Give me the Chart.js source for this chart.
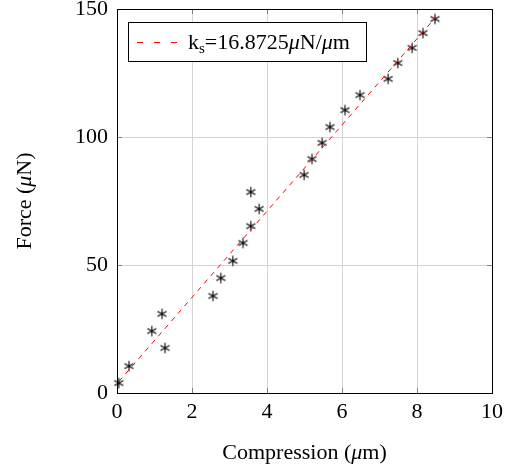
<!DOCTYPE html>
<html>
<head>
<meta charset="utf-8">
<script src="https://cdn.jsdelivr.net/npm/chart.js@4.4.1/dist/chart.umd.min.js"></script>
<style>
    html, body { margin: 0; padding: 0; background: #fff; }
    #wrap { width: 510px; height: 468px; }
</style>
</head>
<body>
<div id="wrap"><canvas id="grafico" width="510" height="468"></canvas></div>
<script>
// datos medidos (compresion en um, fuerza en uN)
var compresion = [0.05, 0.32, 0.93, 1.20, 1.28, 2.56, 2.77, 3.09, 3.36, 3.57, 3.57, 3.79,
    4.99, 5.20, 5.47, 5.68, 6.08, 6.48, 7.23, 7.49, 7.87, 8.16, 8.48];
var fuerza = [3.9, 10.5, 24.2, 30.9, 17.6, 37.9, 44.9, 51.6, 58.6, 65.2, 78.5, 71.9,
    85.2, 91.4, 97.7, 103.9, 110.5, 116.4, 122.7, 128.9, 134.8, 140.6, 146.1];
// recta de ajuste
var ajusteX = [0.05, 8.5];
var ajusteY = [4.5, 146.8];
var ticksX = [0, 2, 4, 6, 8, 10];
var ticksY = [0, 50, 100, 150];

var FUENTE = 'Liberation Serif';
var TAM = 22;

function f(estilo, tam) {
    return (estilo ? estilo + ' ' : '') + tam + 'px "' + FUENTE + '"';
}

// texto con partes de distinto estilo
function dibujarTexto(ctx, partes, x, y, centrado) {
    var ancho = 0;
    for (var i in partes) {
        ctx.font = partes[i].font;
        ancho += ctx.measureText(partes[i].t).width;
    }
    var px = centrado ? x - ancho / 2 : x;
    ctx.textBaseline = 'alphabetic';
    ctx.textAlign = 'left';
    for (var j in partes) {
        ctx.font = partes[j].font;
        ctx.fillText(partes[j].t, px, y + (partes[j].dy || 0));
        px += ctx.measureText(partes[j].t).width;
    }
}

var tituloX = [
    {t: 'Compression (', font: f('', TAM)},
    {t: 'μ', font: f('italic', TAM)},
    {t: 'm)', font: f('', TAM)}
];
var tituloY = [
    {t: 'Force (', font: f('', TAM)},
    {t: 'μ', font: f('italic', TAM)},
    {t: 'N)', font: f('', TAM)}
];
var textoLeyenda = [
    {t: 'k', font: f('', 22)},
    {t: 's', font: f('', 15), dy: 4},
    {t: '=16.8725', font: f('', 22)},
    {t: 'μ', font: f('italic', 22)},
    {t: 'N/', font: f('', 22)},
    {t: 'μ', font: f('italic', 22)},
    {t: 'm', font: f('', 22)}
];

// marcador asterisco de 6 brazos
function crearAsterisco() {
    var c = document.createElement('canvas');
    c.width = 13;
    c.height = 13;
    var g = c.getContext('2d');
    g.strokeStyle = '#000';
    g.lineWidth = 1.1;
    var r = 5.2;
    for (var k = 0; k < 3; k++) {
        var a = Math.PI / 2 + k * Math.PI / 3;
        g.beginPath();
        g.moveTo(6.5 - r * Math.cos(a), 6.5 - r * Math.sin(a));
        g.lineTo(6.5 + r * Math.cos(a), 6.5 + r * Math.sin(a));
        g.stroke();
    }
    return c;
}

var puntos = [];
for (var i = 0; i < compresion.length; i++) {
    puntos.push({x: compresion[i], y: fuerza[i]});
}
var recta = [];
for (var j = 0; j < ajusteX.length; j++) {
    recta.push({x: ajusteX[j], y: ajusteY[j]});
}

var marcoPlugin = {
    id: 'marco',
    beforeDatasetsDraw: function (chart) {
        var ctx = chart.ctx;
        var a = chart.chartArea;
        var sx = chart.scales.x;
        var sy = chart.scales.y;
        ctx.save();
        ctx.strokeStyle = '#808080';
        ctx.lineWidth = 1;
        for (var i in ticksX) {
            var px = Math.round(sx.getPixelForValue(ticksX[i])) + 0.5;
            ctx.beginPath();
            ctx.moveTo(px, a.bottom);
            ctx.lineTo(px, a.bottom - 5);
            ctx.moveTo(px, a.top);
            ctx.lineTo(px, a.top + 5);
            ctx.stroke();
        }
        for (var j in ticksY) {
            var py = Math.round(sy.getPixelForValue(ticksY[j])) + 0.5;
            ctx.beginPath();
            ctx.moveTo(a.left, py);
            ctx.lineTo(a.left + 5, py);
            ctx.moveTo(a.right, py);
            ctx.lineTo(a.right - 5, py);
            ctx.stroke();
        }
        ctx.strokeStyle = '#000';
        ctx.strokeRect(Math.round(a.left) + 0.5, Math.round(a.top) + 0.5,
            Math.round(a.right - a.left), Math.round(a.bottom - a.top));
        ctx.restore();
    },
    afterDraw: function (chart) {
        var ctx = chart.ctx;
        var a = chart.chartArea;
        ctx.save();
        ctx.fillStyle = '#000';
        dibujarTexto(ctx, tituloX, (a.left + a.right) / 2, 459, true);
        ctx.translate(31, (a.top + a.bottom) / 2);
        ctx.rotate(-Math.PI / 2);
        dibujarTexto(ctx, tituloY, 0, 0, true);
        ctx.restore();

        // leyenda
        ctx.save();
        var lx = a.left + 11, ly = a.top + 13, lw = 238, lh = 39;
        ctx.fillStyle = '#fff';
        ctx.fillRect(lx, ly, lw, lh);
        ctx.strokeStyle = '#000';
        ctx.lineWidth = 1;
        ctx.strokeRect(Math.round(lx) + 0.5, Math.round(ly) + 0.5, lw, lh);
        ctx.strokeStyle = '#ff0000';
        ctx.setLineDash([6, 11]);
        ctx.beginPath();
        ctx.moveTo(lx + 9, ly + 20.5);
        ctx.lineTo(lx + 49, ly + 20.5);
        ctx.stroke();
        ctx.setLineDash([]);
        ctx.fillStyle = '#000';
        dibujarTexto(ctx, textoLeyenda, lx + 60, ly + 27, false);
        ctx.restore();
    }
};

var GRAFICO = new Chart(document.getElementById('grafico'), {
    type: 'scatter',
    data: {
        datasets: [{
            label: 'ajuste',
            data: recta,
            showLine: true,
            borderColor: '#ff0000',
            borderWidth: 1,
            borderDash: [5, 5],
            pointRadius: 0,
            fill: false,
            clip: false
        }, {
            label: 'datos',
            data: puntos,
            pointStyle: crearAsterisco(),
            pointRadius: 6,
            clip: false
        }]
    },
    options: {
        responsive: false,
        animation: false,
        devicePixelRatio: 1,
        layout: {
            padding: {top: 0, right: 18, left: 0, bottom: 0}
        },
        plugins: {
            legend: {display: false},
            tooltip: {enabled: false}
        },
        scales: {
            x: {
                type: 'linear',
                min: 0,
                max: 10,
                afterBuildTicks: function (s) {
                    s.ticks = ticksX.map(function (v) { return {value: v}; });
                },
                afterFit: function (s) { s.height = 75; },
                ticks: {
                    color: '#000',
                    padding: 6,
                    maxRotation: 0,
                    font: {family: FUENTE, size: TAM}
                },
                grid: {color: '#d4d4d4', drawTicks: false},
                border: {display: false}
            },
            y: {
                type: 'linear',
                min: 0,
                max: 150,
                afterBuildTicks: function (s) {
                    s.ticks = ticksY.map(function (v) { return {value: v}; });
                },
                afterFit: function (s) {
                    s.width = 117;
                    s.paddingTop = 9;
                    s.paddingBottom = 0;
                },
                ticks: {
                    color: '#000',
                    padding: 9,
                    font: {family: FUENTE, size: TAM}
                },
                grid: {color: '#d4d4d4', drawTicks: false},
                border: {display: false}
            }
        }
    },
    plugins: [marcoPlugin]
});
</script>
</body>
</html>
